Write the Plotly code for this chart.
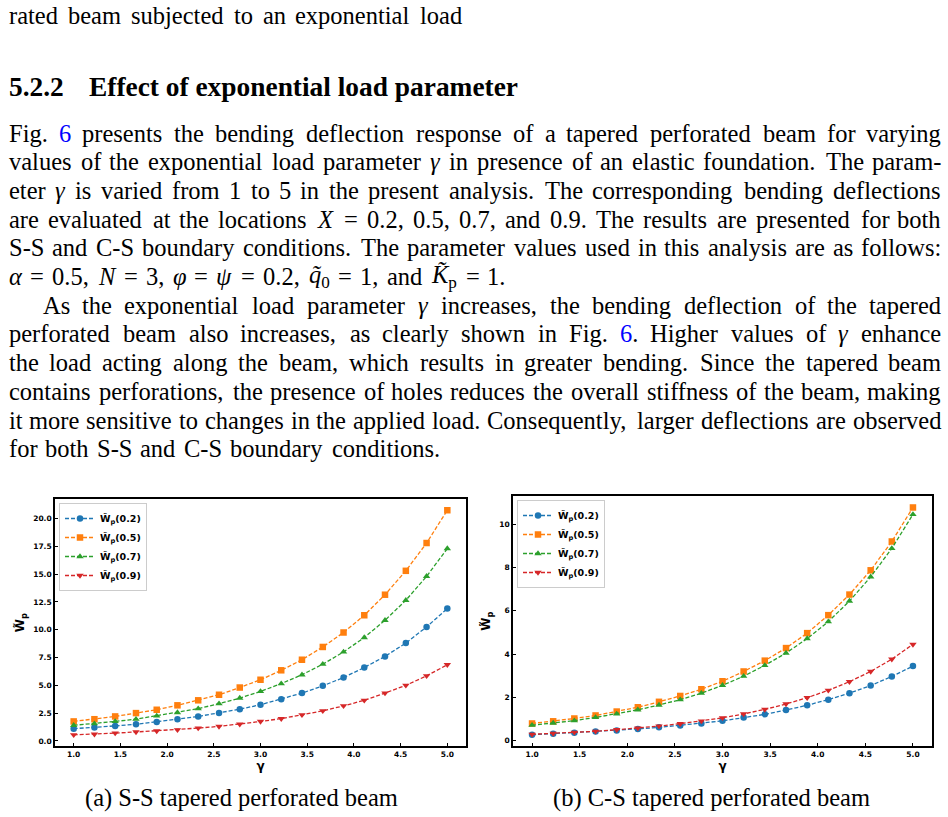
import re
import plotly.graph_objects as go

W, H = 948, 817

# ---------------- data ----------------
gamma = [1.0, 1.222, 1.444, 1.667, 1.889, 2.111, 2.333, 2.556, 2.778, 3.0,
         3.222, 3.444, 3.667, 3.889, 4.111, 4.333, 4.556, 4.778, 5.0]
x_ticks = [1.0, 1.5, 2.0, 2.5, 3.0, 3.5, 4.0, 4.5, 5.0]
ss_ticks = [0.0, 2.5, 5.0, 7.5, 10.0, 12.5, 15.0, 17.5, 20.0]
cs_ticks = [0, 2, 4, 6, 8, 10]
labels = ["0.2", "0.5", "0.7", "0.9"]

# S-S tapered perforated beam
ss_02 = [1.1, 1.2, 1.35, 1.5, 1.7, 1.95, 2.2, 2.5, 2.85, 3.25, 3.75, 4.3, 4.95, 5.7, 6.6, 7.6, 8.8, 10.25, 11.9]
ss_05 = [1.75, 1.95, 2.2, 2.5, 2.8, 3.2, 3.65, 4.15, 4.8, 5.5, 6.35, 7.3, 8.45, 9.75, 11.3, 13.15, 15.3, 17.8, 20.75]
ss_07 = [1.4, 1.55, 1.75, 1.95, 2.25, 2.55, 2.9, 3.35, 3.85, 4.45, 5.15, 5.95, 6.9, 8.0, 9.3, 10.85, 12.65, 14.8, 17.3]
ss_09 = [0.55, 0.6, 0.7, 0.8, 0.9, 1.0, 1.15, 1.3, 1.5, 1.75, 2.0, 2.35, 2.7, 3.15, 3.65, 4.3, 5.0, 5.85, 6.85]

# C-S tapered perforated beam
cs_02 = [0.28, 0.33, 0.37, 0.43, 0.48, 0.55, 0.62, 0.71, 0.8, 0.92, 1.07, 1.22, 1.42, 1.64, 1.9, 2.2, 2.55, 2.97, 3.45]
cs_05 = [0.8, 0.9, 1.03, 1.17, 1.35, 1.55, 1.8, 2.07, 2.38, 2.75, 3.2, 3.7, 4.28, 4.97, 5.8, 6.75, 7.87, 9.2, 10.77]
cs_07 = [0.72, 0.82, 0.93, 1.08, 1.24, 1.43, 1.65, 1.9, 2.2, 2.56, 2.98, 3.48, 4.05, 4.72, 5.5, 6.45, 7.57, 8.88, 10.45]
cs_09 = [0.3, 0.34, 0.39, 0.44, 0.51, 0.59, 0.68, 0.79, 0.91, 1.06, 1.24, 1.45, 1.7, 1.99, 2.33, 2.73, 3.2, 3.77, 4.45]

colors = ["#1f77b4", "#ff7f0e", "#2ca02c", "#d62728"]
symbols = ["circle", "square", "triangle-up", "triangle-down"]

# ---------------- text ----------------
top_line = "rated beam subjected to an exponential load"
heading_num = "5.2.2"
heading_txt = "Effect of exponential load parameter"
G = "<i>γ</i>"
BLUE6 = "<span style='color:#0000ff'>6</span>"
# (text, left x, right x)
para_lines = [
    ("Fig. " + BLUE6 + " presents the bending deflection response of a tapered perforated beam for varying", 8, 942),
    ("values of the exponential load parameter " + G + " in presence of an elastic foundation. The param-", 8, 942),
    ("eter " + G + " is varied from 1 to 5 in the present analysis. The corresponding bending deflections", 8, 942),
    ("are evaluated at the locations <i>X</i> = 0.2, 0.5, 0.7, and 0.9. The results are presented for both", 8, 942),
    ("S-S and C-S boundary conditions. The parameter values used in this analysis are as follows:", 8, 942),
    ("<i>α</i> = 0.5, <i>N</i> = 3, <i>φ</i> = <i>ψ</i> = 0.2, <i>q̃</i><sub>0</sub> = 1, and <i>K̃</i><sub>p</sub> = 1.", 8, 506),
    ("As the exponential load parameter " + G + " increases, the bending deflection of the tapered", 42, 942),
    ("perforated beam also increases, as clearly shown in Fig. " + BLUE6 + ". Higher values of " + G + " enhance", 8, 942),
    ("the load acting along the beam, which results in greater bending. Since the tapered beam", 8, 942),
    ("contains perforations, the presence of holes reduces the overall stiffness of the beam, making", 8, 942),
    ("it more sensitive to changes in the applied load. Consequently, larger deflections are observed", 8, 942),
    ("for both S-S and C-S boundary conditions.", 8, 441),
]
cap_a = "(a) S-S tapered perforated beam"
cap_b = "(b) C-S tapered perforated beam"

# ---------------- approximate Times metrics for justification ----------------
REG = dict(zip("abcdefghijklmnopqrstuvwxyz",
               [444, 500, 444, 500, 444, 333, 500, 500, 278, 278, 500, 278, 778,
                500, 500, 500, 500, 333, 389, 278, 500, 500, 722, 500, 500, 444]))
REG.update(dict(zip("ABCDEFGHIJKLMNOPQRSTUVWXYZ",
                    [722, 667, 667, 722, 611, 556, 722, 722, 333, 389, 722, 611, 889,
                     722, 722, 556, 722, 667, 556, 611, 722, 722, 944, 722, 722, 611])))
REG.update({c: 500 for c in "0123456789"})
REG.update({" ": 250, ".": 250, ",": 250, ":": 278, ";": 278, "-": 333, "=": 564,
            "(": 333, ")": 333, "γ": 450, "α": 530, "φ": 520, "ψ": 690, "\u0303": 0})
BOLD = dict(REG)
BOLD.update(dict(zip("abcdefghijklmnopqrstuvwxyz",
                     [500, 556, 444, 556, 444, 333, 500, 556, 278, 333, 556, 278, 833,
                      556, 500, 556, 556, 444, 389, 333, 556, 500, 722, 500, 500, 444])))
BOLD.update({"E": 667})


def em(s, bold=False):
    table = BOLD if bold else REG
    total = 0.0
    for part in re.split(r"(<sub>.*?</sub>)", s):
        scale = 0.7 if part.startswith("<sub>") else 1.0
        plain = re.sub(r"<[^>]+>", "", part)
        total += scale * sum(table.get(c, 500) for c in plain) / 1000.0
    return total


def px(x):
    return x / W


def py(y):
    return 1 - y / H


SERIF = "Liberation Serif"
FS = 24.5
annotations = []


def add_text(text, x, y, size, anchor="left", bold=False, color="black"):
    annotations.append(dict(
        text=("<b>%s</b>" % text) if bold else text, x=px(x), y=py(y),
        xref="paper", yref="paper", xanchor=anchor, yanchor="middle",
        showarrow=False, borderpad=0,
        font=dict(family=SERIF, size=size, color=color)))


def justify(line, x0, x1, yc, size):
    words = re.split(r" (?![^<]*>)", line)
    widths = [em(w) * 1.02 * size for w in words]
    gap = max((x1 - x0 - sum(widths)) / (len(words) - 1), 0.22 * size)
    pos = x0
    for j, w in enumerate(words):
        if j == len(words) - 1:
            add_text(w, x1, yc, size, anchor="right")
        else:
            add_text(w, pos, yc, size)
        pos += widths[j] + gap


justify(top_line, 8, 463, 16, FS)
HFS = round(429 / em(heading_txt, True), 1)
add_text(heading_num, 8, 87, HFS, bold=True)
add_text(heading_txt, 88, 87, HFS, bold=True)

for i, (line, x0, x1) in enumerate(para_lines):
    justify(line, x0, x1, 133 + 28.7 * i, FS)

CFS = round(313 / em(cap_a), 1)
add_text(cap_a, 241, 798, CFS, anchor="center")
add_text(cap_b, 711, 798, CFS, anchor="center")

# ---------------- figure ----------------
fig = go.Figure()
for vals, lab, c, s in zip([ss_02, ss_05, ss_07, ss_09], labels, colors, symbols):
    fig.add_trace(go.Scatter(
        x=gamma, y=vals, mode="lines+markers",
        name="<b>W̃<sub>p</sub>(%s)</b>" % lab,
        line=dict(color=c, width=1.3, dash="4px,2px"),
        marker=dict(symbol=s, size=6.5, color=c),
        xaxis="x", yaxis="y", legend="legend"))
for vals, lab, c, s in zip([cs_02, cs_05, cs_07, cs_09], labels, colors, symbols):
    fig.add_trace(go.Scatter(
        x=gamma, y=vals, mode="lines+markers",
        name="<b>W̃<sub>p</sub>(%s)</b>" % lab,
        line=dict(color=c, width=1.3, dash="4px,2px"),
        marker=dict(symbol=s, size=6.5, color=c),
        xaxis="x2", yaxis="y2", legend="legend2"))

tickfont = dict(family="DejaVu Sans", size=7.5, color="black", weight="bold")
titlefont = dict(family="DejaVu Sans", size=12, color="black", weight="bold")
common = dict(showline=True, mirror=True, linecolor="black", linewidth=1.6,
              ticks="inside", ticklen=3.5, tickwidth=1, tickcolor="black",
              showgrid=False, zeroline=False, tickfont=tickfont, automargin=False)

legend_common = dict(font=dict(family="DejaVu Sans", size=9.5, color="black"),
                     bgcolor="white", bordercolor="#cccccc", borderwidth=1,
                     xanchor="left", yanchor="top", tracegroupgap=0)

fig.update_layout(
    width=W, height=H, margin=dict(l=0, r=0, t=0, b=0),
    paper_bgcolor="white", plot_bgcolor="white",
    showlegend=True,
    xaxis=dict(domain=[px(55), px(466)], range=[0.8, 5.2], tickvals=x_ticks,
               tickformat=".1f", anchor="y",
               title=dict(text="<b>γ</b>", font=titlefont, standoff=2), **common),
    yaxis=dict(domain=[py(746), py(499)], range=[-0.46, 21.76], tickvals=ss_ticks,
               tickformat=".1f", anchor="x",
               title=dict(text="<b>W̃<sub>p</sub></b>", font=titlefont, standoff=6), **common),
    xaxis2=dict(domain=[px(513), px(932)], range=[0.8, 5.2], tickvals=x_ticks,
                tickformat=".1f", anchor="y2",
                title=dict(text="<b>γ</b>", font=titlefont, standoff=2), **common),
    yaxis2=dict(domain=[py(746), py(496)], range=[-0.24, 11.3], tickvals=cs_ticks,
                tickformat="d", anchor="x2",
                title=dict(text="<b>W̃<sub>p</sub></b>", font=titlefont, standoff=6), **common),
    legend=dict(x=px(59), y=py(503), **legend_common),
    legend2=dict(x=px(517), y=py(500), **legend_common),
    annotations=annotations,
)

fig.write_html("out.html")
